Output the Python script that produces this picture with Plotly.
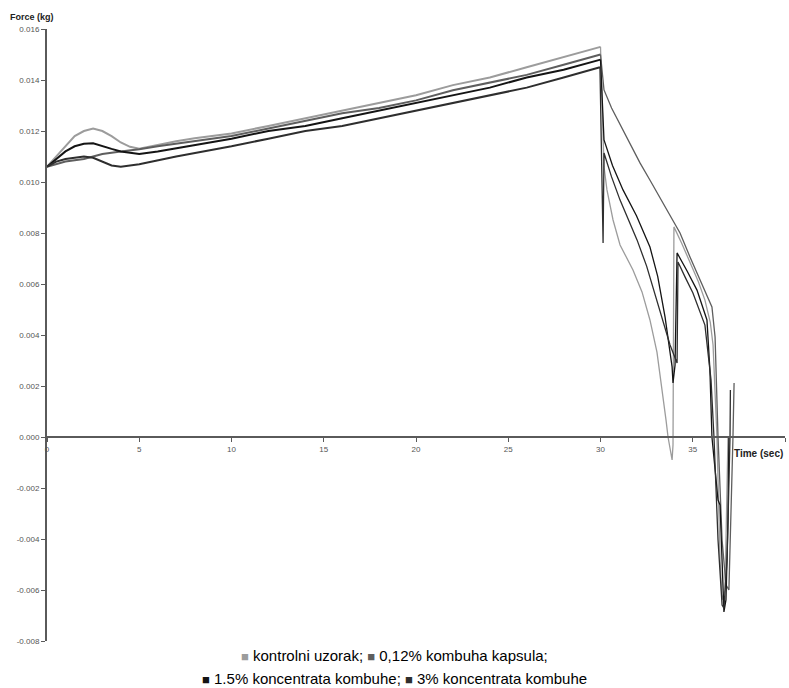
import plotly.graph_objects as go

# Force (kg) versus time (sec) for four samples
t_kontrolni = [0, 0.5, 1, 1.5, 2, 2.5, 3, 3.5, 4, 4.5, 5, 6, 7, 8, 9, 10, 12, 14, 16, 18, 20, 22, 24, 26, 28, 29, 30,
               30.19, 30.35, 30.68, 31.06, 31.76, 32.25, 32.68, 33.06, 33.33, 33.55, 33.66, 33.88, 33.93, 33.98,
               34.40, 34.85, 35.30, 35.66, 35.95, 36.10, 36.31, 36.48, 36.59, 36.75, 36.91]
f_kontrolni = [0.0106, 0.0110, 0.0114, 0.0118, 0.0120, 0.0121, 0.0120, 0.0118, 0.01155, 0.01138, 0.0113, 0.01145,
               0.0116, 0.01172, 0.0118, 0.0119, 0.0122, 0.0125, 0.0128, 0.0131, 0.0134, 0.0138, 0.0141, 0.0145,
               0.0149, 0.0151, 0.0153,
               0.01059, 0.00969, 0.00851, 0.00753, 0.00655, 0.00569, 0.00459, 0.00333, 0.00196, 0.00067, 0.0,
               -0.0009, -0.00031, 0.00824, 0.00760, 0.00686, 0.00610, 0.00537, 0.00450, 0.00361, 0.00004,
               -0.00482, -0.00639, -0.0060, 0.0]

t_kapsula = [0, 1, 2, 3, 4, 5, 6, 8, 10, 12, 14, 16, 18, 20, 22, 24, 26, 28, 30,
             30.19, 30.60, 31.06, 31.60, 32.14, 32.70, 33.22, 33.75, 34.31, 34.85, 35.20, 35.56, 35.85, 36.04,
             36.21, 36.31, 36.37, 36.59, 36.80, 36.96, 37.07, 37.18, 37.24]
f_kapsula = [0.0106, 0.0108, 0.0109, 0.0111, 0.0112, 0.01128, 0.0114, 0.0116, 0.0118, 0.0121, 0.0124, 0.0127,
             0.0129, 0.0132, 0.0136, 0.0139, 0.0142, 0.0146, 0.0150,
             0.01361, 0.01290, 0.01224, 0.01150, 0.01075, 0.01005, 0.00937, 0.00868, 0.0080, 0.00706, 0.00648,
             0.00588, 0.00545, 0.0051, 0.00392, 0.00145, 0.0, -0.00404, -0.0058, -0.0060, -0.00325, 0.0,
             0.00212]

t_koncentrat_15 = [0, 0.5, 1, 1.5, 2, 2.5, 3, 3.5, 4, 5, 6, 8, 10, 12, 14, 16, 18, 20, 22, 24, 26, 28, 30,
                   30.19, 30.65, 31.22, 31.95, 32.68, 33.10, 33.50, 33.88, 33.93, 34.04, 34.15, 34.70, 35.23,
                   35.77, 35.93, 36.04, 36.37, 36.48, 36.69, 36.80, 36.91, 36.96]
f_koncentrat_15 = [0.0106, 0.0109, 0.0112, 0.0114, 0.0115, 0.01152, 0.0114, 0.0113, 0.0112, 0.0111, 0.0112,
                   0.01145, 0.0117, 0.0120, 0.0122, 0.0125, 0.0128, 0.0131, 0.0134, 0.0137, 0.0141, 0.0144,
                   0.0148,
                   0.01165, 0.01065, 0.00969, 0.00868, 0.00745, 0.00630, 0.00470, 0.00275, 0.00212, 0.00282,
                   0.00722, 0.00650, 0.00576, 0.00459, 0.00263, 0.0, -0.00247, -0.00267, -0.00686, -0.00639,
                   -0.00325, 0.0]

t_koncentrat_3 = [0, 0.5, 1, 2, 2.5, 3, 3.5, 4, 5, 7, 10, 12, 14, 16, 18, 20, 22, 24, 26, 28, 29.97,
                  30.14, 30.19, 30.60, 31.06, 31.98, 32.50, 32.95, 33.40, 33.77, 34.15, 34.20, 34.60, 35.01,
                  35.66, 35.99, 36.15, 36.37, 36.59, 36.69, 36.86, 37.02, 37.04]
f_koncentrat_3 = [0.0106, 0.0108, 0.0109, 0.0110, 0.01095, 0.0108, 0.01065, 0.0106, 0.0107, 0.0110, 0.0114,
                  0.0117, 0.0120, 0.0122, 0.0125, 0.0128, 0.0131, 0.0134, 0.0137, 0.0141, 0.0145,
                  0.00761, 0.01114, 0.01020, 0.00929, 0.00773, 0.00670, 0.00560, 0.00455, 0.00361, 0.0029,
                  0.00686, 0.00625, 0.00565, 0.00439, 0.00224, 0.0, -0.00404, -0.00659, -0.00671, -0.00482,
                  0.0, 0.00184]

series_names = ["kontrolni uzorak", "0,12% kombuha kapsula", "1.5% koncentrata kombuhe", "3% koncentrata kombuhe"]
series_colors = ["#9c9c9c", "#5e5e5e", "#141414", "#2e2e2e"]

x_ticks = [0, 5, 10, 15, 20, 25, 30, 35, 40]
y_ticks = [0.016, 0.014, 0.012, 0.010, 0.008, 0.006, 0.004, 0.002, 0.000,
           -0.002, -0.004, -0.006, -0.008]
y_tick_text = ["0.016", "0.014", "0.012", "0.010", "0.008", "0.006", "0.004", "0.002", "0.000",
               "-0.002", "-0.004", "-0.006", "-0.008"]

fig = go.Figure()
series = [(t_kontrolni, f_kontrolni), (t_kapsula, f_kapsula),
          (t_koncentrat_15, f_koncentrat_15), (t_koncentrat_3, f_koncentrat_3)]
for (t, f), name, color in zip(series, series_names, series_colors):
    # compression phase (up to 30 s) drawn heavier, withdrawal phase thinner
    split = max(i for i, v in enumerate(t) if v <= 30.0) + 1
    fig.add_trace(go.Scatter(x=t[:split], y=f[:split], mode="lines", name=name,
                             line=dict(color=color, width=2.0), showlegend=False))
    fig.add_trace(go.Scatter(x=t[split - 1:], y=f[split - 1:], mode="lines", name=name,
                             line=dict(color=color, width=1.3), showlegend=False))

axis_color = "#5a5a5a"
tick_font = dict(family="Liberation Sans, Arial, sans-serif", size=8, color="#555555")

fig.update_layout(
    width=789, height=688,
    margin=dict(l=47, r=4, t=29, b=47),
    paper_bgcolor="white", plot_bgcolor="white",
    xaxis=dict(range=[0, 40], tickvals=x_ticks, ticks="outside", ticklen=4, tickwidth=1,
               tickcolor=axis_color, showline=True, linecolor=axis_color, linewidth=2,
               showgrid=False, zeroline=False, anchor="free", position=1 / 3,
               tickfont=tick_font),
    yaxis=dict(range=[-0.008, 0.016], tickvals=y_ticks, ticktext=y_tick_text, ticks="outside",
               ticklen=4, tickwidth=1, tickcolor=axis_color, showline=True, linecolor=axis_color,
               linewidth=2, showgrid=False, zeroline=False, tickfont=tick_font),
)

fig.add_annotation(text="<b>Force (kg)</b>", xref="paper", yref="paper", x=0, y=1,
                   xanchor="center", yanchor="middle", xshift=-15, yshift=12, showarrow=False,
                   font=dict(family="Liberation Sans, Arial, sans-serif", size=9, color="#222222"))
fig.add_annotation(text="<b>Time (sec)</b>", xref="paper", yref="paper", x=1, y=1 / 3,
                   xanchor="right", yanchor="middle", yshift=-16, showarrow=False,
                   font=dict(family="Liberation Sans, Arial, sans-serif", size=10, color="#222222"))

sq = '<span style="color:{};font-size:13px">■</span>'
line1 = (sq.format(series_colors[0]) + " " + series_names[0] + "; " +
         sq.format(series_colors[1]) + " " + series_names[1] + ";")
line2 = (sq.format(series_colors[2]) + " " + series_names[2] + "; " +
         sq.format(series_colors[3]) + " " + series_names[3])
legend_font = dict(family="Liberation Sans, Arial, sans-serif", size=15, color="#000000")
fig.add_annotation(text=line1, xref="paper", yref="paper", x=(394 - 47) / 738, y=0,
                   xanchor="center", yanchor="middle", yshift=-14, showarrow=False, font=legend_font)
fig.add_annotation(text=line2, xref="paper", yref="paper", x=(394 - 47) / 738, y=0,
                   xanchor="center", yanchor="middle", yshift=-37, showarrow=False, font=legend_font)

fig.write_html("out.html")
